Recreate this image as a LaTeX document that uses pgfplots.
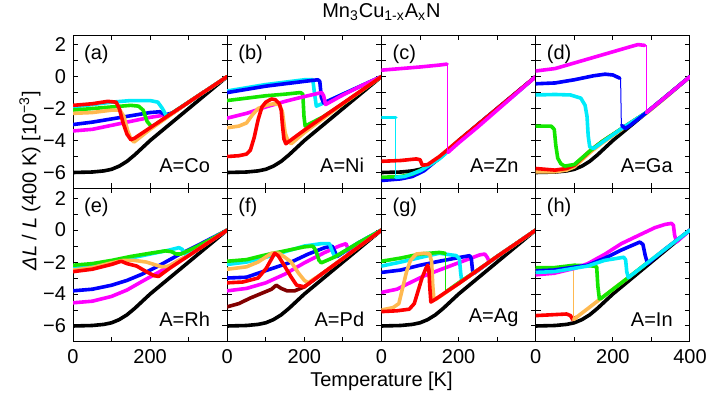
\documentclass[border=0pt]{standalone}
\usepackage{fontspec}
\setmainfont{Liberation Sans}
\usepackage{pgfplots}
\pgfplotsset{compat=1.18}
\usepackage{pgfplotstable}
\usepgfplotslibrary{groupplots}

\definecolor{cR}{RGB}{255,0,0}
\definecolor{cO}{RGB}{255,185,80}
\definecolor{cG}{RGB}{20,230,0}
\definecolor{cC}{RGB}{0,235,250}
\definecolor{cB}{RGB}{0,0,255}
\definecolor{cM}{RGB}{255,0,255}
\definecolor{cD}{RGB}{130,0,0}

% reference sample (black), same in every panel
\pgfplotstableread{
T v
0 -6.0
50 -5.97
80 -5.9
100 -5.8
120 -5.6
140 -5.3
160 -4.9
180 -4.45
200 -4.0
250 -3.0
300 -2.0
350 -1.0
400 0
}\refblack

\pgfplotsset{
  cv/.style={line width=1.8pt, line join=round, line cap=round},
  jp/.style={line width=0.5pt},
}
\tikzset{
  lab/.style={anchor=north west, inner sep=0pt},
  nm/.style={anchor=south east, inner sep=0pt},
}

\begin{document}
\begin{tikzpicture}[font=\fontsize{10}{12}\selectfont]
\begin{groupplot}[
  group style={group size=4 by 2, horizontal sep=0pt, vertical sep=0pt,
    xticklabels at=edge bottom, yticklabels at=edge left},
  scale only axis, width=77.125pt, height=76.75pt,
  xmin=0, xmax=400, ymin=-7, ymax=2.6,
  xtick={0,100,200,300,400}, xticklabels={0,,200,,},
  ytick={-6,...,2}, yticklabels={−6,,−4,,−2,,0,,2},
  tick align=inside, major tick length=2.5pt,
  tick style={black, line width=0.5pt},
  axis line style={line width=0.5pt},
  clip=true,
]
% (a) Co
\nextgroupplot
\addplot[cv,black] table {\refblack};
\addplot[cv,cM] coordinates {(0,-3.4) (50,-3.3) (100,-3.05) (150,-2.8) (200,-2.55) (240,-2.4) (258,-2.3) (300,-1.6) (350,-0.8) (400,0)};
\addplot[cv,cB] coordinates {(0,-3.0) (50,-2.85) (100,-2.65) (150,-2.45) (200,-2.25) (225,-2.2) (240,-2.4) (260,-2.25) (300,-1.6) (350,-0.8) (400,0)};
\addplot[cv,cC] coordinates {(0,-1.9) (50,-1.75) (100,-1.6) (150,-1.5) (200,-1.5) (220,-1.6) (232,-2.0) (243,-2.5) (300,-1.6) (350,-0.8) (400,0)};
\addplot[cv,cG] coordinates {(0,-2.1) (50,-2.0) (100,-1.9) (150,-1.8) (170,-1.85) (182,-2.1) (192,-2.8) (204,-3.15) (250,-2.4) (300,-1.6) (350,-0.8) (400,0)};
\addplot[cv,cO] coordinates {(0,-2.3) (50,-2.25) (100,-2.1) (122,-2.1) (132,-2.5) (142,-3.4) (150,-3.9) (158,-4.1) (200,-3.3) (250,-2.45) (300,-1.6) (350,-0.8) (400,0)};
\addplot[cv,cR] coordinates {(0,-1.8) (50,-1.7) (90,-1.55) (112,-1.6) (120,-2.0) (130,-2.9) (140,-3.6) (150,-3.95) (160,-3.85) (200,-3.2) (250,-2.4) (300,-1.6) (350,-0.8) (400,0)};
\node[lab] at (rel axis cs:0.07,0.94) {(a)};
\node[nm] at (rel axis cs:0.89,0.1) {A=Co};
% (b) Ni
\nextgroupplot
\addplot[cv,black] table {\refblack};
\addplot[cv,cC] coordinates {(0,-0.9) (50,-0.7) (100,-0.5) (150,-0.35) (200,-0.2) (222,-0.2) (226,-1.0) (231,-1.85) (260,-1.55) (300,-1.1) (350,-0.55) (400,0)};
\addplot[cv,cB] coordinates {(0,-1.0) (50,-0.8) (100,-0.6) (150,-0.45) (200,-0.3) (235,-0.2) (240,-0.3) (244,-1.3) (250,-1.65) (300,-1.1) (350,-0.55) (400,0)};
\addplot[cv,cG] coordinates {(0,-1.5) (50,-1.35) (100,-1.2) (150,-1.1) (190,-1.0) (196,-1.1) (199,-2.5) (202,-3.1) (250,-2.5) (300,-1.7) (350,-0.85) (400,0)};
\addplot[cv,cM] coordinates {(0,-2.6) (50,-2.3) (100,-1.9) (150,-1.55) (200,-1.25) (245,-1.0) (250,-1.2) (255,-1.75) (300,-1.15) (350,-0.55) (400,0)};
\addplot[cv,cO] coordinates {(0,-3.2) (30,-3.1) (50,-2.9) (65,-2.4) (80,-2.0) (100,-1.8) (120,-1.7) (135,-1.75) (143,-2.2) (150,-3.5) (157,-4.0) (166,-4.2) (200,-3.5) (250,-2.6) (300,-1.7) (350,-0.85) (400,0)};
\addplot[cv,cR] coordinates {(0,-5.0) (30,-4.95) (50,-4.85) (60,-4.6) (70,-3.8) (80,-2.7) (90,-1.9) (100,-1.6) (115,-1.4) (125,-1.45) (135,-1.7) (140,-2.1) (143,-3.0) (147,-3.9) (152,-4.2) (200,-3.35) (250,-2.5) (300,-1.67) (350,-0.84) (400,0)};
\node[lab] at (rel axis cs:0.07,0.94) {(b)};
\node[nm] at (rel axis cs:0.89,0.1) {A=Ni};
% (c) Zn
\nextgroupplot
\addplot[cv,black] table {\refblack};
\addplot[cv,cB] coordinates {(0,-6.5) (50,-6.4) (80,-6.25) (110,-5.9) (150,-5.1) (175,-4.6) (200,-4.05) (250,-3.0) (300,-2.0) (350,-1.0) (400,0)};
\addplot[cv,cG] coordinates {(0,-6.3) (50,-6.25) (80,-6.1) (110,-5.75) (140,-5.3) (160,-4.9)};
\addplot[cv,cC] coordinates {(0,-2.55) (37,-2.55)};
\addplot[jp,cC] coordinates {(37,-2.55) (37,-6.3)};
\addplot[cv,cC] coordinates {(37,-6.3) (60,-6.25) (100,-5.9) (150,-5.15) (200,-4.1) (250,-3.05) (300,-2.05) (350,-1.05) (400,0)};
\addplot[cv,cR] coordinates {(0,-5.3) (50,-5.25) (90,-5.15) (100,-5.2) (106,-5.55) (120,-5.5) (150,-5.0) (200,-4.0) (250,-3.0) (300,-2.0) (350,-1.0) (400,0)};
\addplot[cv,cM] coordinates {(0,0.4) (50,0.5) (100,0.6) (150,0.72) (170,0.78)};
\addplot[jp,cM] coordinates {(171,0.78) (171,-4.75)};
\addplot[cv,cM] coordinates {(172,-4.75) (200,-4.15) (250,-3.15) (300,-2.1) (350,-1.05) (400,0)};
\node[lab] at (rel axis cs:0.07,0.94) {(c)};
\node[nm] at (rel axis cs:0.89,0.1) {A=Zn};
% (d) Ga
\nextgroupplot
\addplot[cv,black] table {\refblack};
\addplot[cv,cO] coordinates {(0,-5.95) (50,-5.95) (80,-5.85) (100,-5.65) (143,-4.7) (170,-4.2) (226,-3.25) (287,-2.3) (340,-1.25) (400,0)};
\addplot[cv,cR] coordinates {(0,-5.75) (50,-5.85) (80,-5.75) (100,-5.55) (143,-4.6) (170,-4.1) (226,-3.2) (287,-2.25) (340,-1.2) (400,0)};
\addplot[cv,cG] coordinates {(0,-3.1) (40,-3.1) (48,-3.3) (52,-4.3) (57,-5.1) (65,-5.45) (75,-5.6) (100,-5.5) (143,-4.6) (170,-4.1) (226,-3.2) (287,-2.25) (340,-1.2) (400,0)};
\addplot[cv,cC] coordinates {(0,-1.15) (50,-1.12) (90,-1.15) (117,-1.35) (128,-1.8) (133,-2.5) (136,-3.7) (140,-4.4) (150,-4.5) (170,-4.15) (226,-3.2) (287,-2.25) (340,-1.2) (400,0)};
\addplot[cv,cB] coordinates {(0,-0.45) (50,-0.4) (100,-0.2) (150,0.05) (180,0.15) (200,0.1) (218,-0.1)};
\addplot[jp,cB] coordinates {(220,-0.1) (222,-3.0)};
\addplot[cv,cB] coordinates {(223,-3.05) (232,-3.25) (245,-3.05) (287,-2.25) (340,-1.2) (400,0)};
\addplot[cv,cM] coordinates {(0,0.35) (50,0.5) (100,0.85) (150,1.2) (200,1.55) (250,1.9) (265,2.0) (283,1.95)};
\addplot[jp,cM] coordinates {(286,1.95) (286,-2.25)};
\addplot[cv,cM] coordinates {(287,-2.25) (340,-1.2) (400,0)};
\node[lab] at (rel axis cs:0.07,0.94) {(d)};
\node[nm] at (rel axis cs:0.89,0.1) {A=Ga};
% (e) Rh
\nextgroupplot
\addplot[cv,black] table {\refblack};
\addplot[cv,cM] coordinates {(0,-4.55) (50,-4.45) (100,-4.15) (140,-3.75) (180,-3.2) (225,-2.6) (260,-2.1) (290,-1.7) (330,-1.1) (400,0)};
\addplot[cv,cB] coordinates {(0,-3.8) (50,-3.7) (100,-3.45) (140,-3.15) (180,-2.75) (225,-2.2) (270,-1.6) (320,-1.0) (360,-0.5) (400,0)};
\addplot[cv,cC] coordinates {(0,-2.35) (50,-2.2) (100,-2.0) (150,-1.75) (200,-1.5) (250,-1.25) (275,-1.1) (283,-1.2) (292,-1.55) (320,-1.1) (360,-0.55) (400,0)};
\addplot[cv,cG] coordinates {(0,-2.2) (50,-2.1) (100,-1.9) (150,-1.65) (200,-1.45) (240,-1.3) (255,-1.35) (268,-1.5) (280,-1.5) (320,-1.05) (360,-0.55) (400,0)};
\addplot[cv,cO] coordinates {(0,-2.5) (50,-2.35) (100,-2.05) (130,-1.9) (160,-1.9) (190,-2.0) (210,-2.15) (230,-2.3) (250,-2.25) (270,-1.95) (300,-1.6) (350,-0.8) (400,0)};
\addplot[cv,cR] coordinates {(0,-2.6) (50,-2.45) (100,-2.15) (125,-1.95) (140,-2.1) (165,-2.25) (190,-2.6) (210,-2.85) (222,-2.9) (250,-2.4) (300,-1.6) (350,-0.8) (400,0)};
\node[lab] at (rel axis cs:0.07,0.94) {(e)};
\node[nm] at (rel axis cs:0.89,0.1) {A=Rh};
% (f) Pd
\nextgroupplot
\addplot[cv,black] table {\refblack};
\addplot[cv,cD] coordinates {(0,-4.8) (30,-4.6) (60,-4.25) (90,-3.95) (115,-3.7) (127,-3.45) (140,-3.65) (155,-3.8) (175,-3.8) (200,-3.55) (250,-2.66) (300,-1.78) (350,-0.89) (400,0)};
\addplot[cv,cM] coordinates {(0,-3.8) (50,-3.65) (100,-3.3) (150,-2.75) (200,-2.05) (253,-1.4) (290,-1.0) (308,-0.85) (312,-1.1) (316,-1.4) (360,-0.7) (400,0)};
\addplot[cv,cB] coordinates {(0,-3.0) (50,-2.95) (80,-2.7) (123,-2.35) (166,-2.0) (210,-1.5) (253,-1.1) (272,-1.0) (278,-1.3) (285,-1.65) (340,-0.8) (400,0)};
\addplot[cv,cC] coordinates {(0,-2.15) (50,-2.0) (100,-1.7) (150,-1.35) (200,-1.0) (244,-0.85) (265,-0.85) (272,-1.3) (279,-1.68) (340,-0.8) (400,0)};
\addplot[cv,cG] coordinates {(0,-1.95) (50,-1.85) (100,-1.55) (150,-1.3) (200,-1.05) (222,-1.0) (230,-1.3) (238,-1.9) (244,-2.05) (279,-1.68) (340,-0.8) (400,0)};
\addplot[cv,cO] coordinates {(0,-2.45) (50,-2.3) (80,-2.0) (115,-1.45) (135,-1.45) (166,-2.0) (185,-2.7) (200,-3.15) (210,-3.3) (250,-2.66) (300,-1.78) (350,-0.89) (400,0)};
\addplot[cv,cR] coordinates {(0,-3.3) (40,-3.25) (80,-3.0) (101,-2.4) (115,-1.8) (123,-1.45) (132,-1.6) (145,-2.1) (166,-2.95) (180,-3.45) (200,-3.55) (250,-2.66) (300,-1.78) (350,-0.89) (400,0)};
\node[lab] at (rel axis cs:0.07,0.94) {(f)};
\node[nm] at (rel axis cs:0.89,0.1) {A=Pd};
% (g) Ag
\nextgroupplot
\addplot[cv,black] table {\refblack};
\addplot[cv,cM] coordinates {(0,-3.9) (40,-3.7) (107,-2.9) (150,-2.5) (194,-2.1) (255,-1.55) (268,-1.5) (274,-1.7) (280,-2.0) (300,-1.65) (350,-0.83) (400,0)};
\addplot[cv,cB] coordinates {(0,-2.65) (50,-2.5) (100,-2.2) (150,-1.95) (194,-1.75) (229,-1.6) (233,-1.8) (236,-2.5) (240,-2.7) (300,-1.65) (350,-0.83) (400,0)};
\addplot[cv,cC] coordinates {(0,-2.25) (50,-2.0) (107,-1.68) (150,-1.45) (194,-1.6) (202,-1.8) (205,-2.6) (208,-3.2) (250,-2.5) (300,-1.65) (350,-0.83) (400,0)};
\addplot[cv,cG] coordinates {(0,-1.95) (50,-1.75) (100,-1.5) (150,-1.4) (165,-1.45)};
\addplot[jp,cG] coordinates {(167,-1.45) (167,-3.85)};
\addplot[cv,cG] coordinates {(168,-3.85) (200,-3.3) (250,-2.5) (300,-1.65) (350,-0.83) (400,0)};
\addplot[cv,cO] coordinates {(0,-5.0) (30,-4.85) (45,-4.6) (55,-3.6) (65,-2.6) (75,-1.9) (90,-1.5) (110,-1.45) (125,-1.5) (130,-2.0) (133,-3.5) (136,-4.3) (140,-4.35) (200,-3.35) (250,-2.5) (300,-1.65) (350,-0.83) (400,0)};
\addplot[cv,cR] coordinates {(0,-5.1) (40,-5.05) (72,-4.95) (85,-4.6) (95,-3.8) (105,-3.0) (115,-2.4) (120,-2.2) (123,-2.5) (125,-3.5) (128,-4.5) (135,-4.4) (200,-3.35) (250,-2.5) (300,-1.65) (350,-0.83) (400,0)};
\node[lab] at (rel axis cs:0.07,0.94) {(g)};
\node[nm] at (rel axis cs:0.89,0.1) {A=Ag};
% (h) In
\nextgroupplot[xticklabels={0,,200,,400}]
\addplot[cv,black] table {\refblack};
\addplot[cv,cR] coordinates {(0,-5.35) (40,-5.3) (80,-5.25) (90,-5.35) (96,-5.6) (105,-5.45)};
\addplot[cv,cO] coordinates {(0,-2.5) (50,-2.45) (96,-2.4)};
\addplot[jp,cO] coordinates {(98,-2.4) (98,-5.6)};
\addplot[cv,cO] coordinates {(98,-5.6) (169,-4.28) (239,-2.99) (291,-2.02) (361,-0.72) (400,0)};
\addplot[cv,cG] coordinates {(0,-2.35) (48,-2.35) (100,-2.2) (150,-2.25) (158,-2.3) (161,-3.5) (165,-4.3) (169,-4.28) (239,-2.99) (291,-2.02)};
\addplot[cv,cM] coordinates {(0,-2.8) (48,-2.7) (100,-2.4) (135,-2.1) (180,-1.5) (222,-0.85) (274,-0.25) (309,0.15) (335,0.35) (352,0.42) (357,0.3) (360,-0.3) (365,-0.75) (400,0)};
\addplot[cv,cB] coordinates {(0,-2.55) (48,-2.5) (135,-2.2) (180,-1.75) (222,-1.25) (270,-0.75) (278,-0.9) (284,-1.6) (290,-2.1) (330,-1.3) (361,-0.72) (400,0)};
\addplot[cv,cC] coordinates {(0,-2.65) (48,-2.6) (135,-2.25) (178,-1.9) (228,-1.7) (233,-1.85) (236,-2.6) (240,-2.98) (291,-2.02) (361,-0.72) (400,0)};
\node[lab] at (rel axis cs:0.07,0.94) {(h)};
\node[nm] at (rel axis cs:0.89,0.1) {A=In};
\end{groupplot}
\node at ([yshift=11.5pt]group c2r1.north east) {Mn\textsubscript{3}Cu\textsubscript{1-x}A\textsubscript{x}N};
\node at ([yshift=-19.5pt]group c2r2.south east) {Temperature [K]};
\node[rotate=90] at ([xshift=-21.5pt,yshift=4pt]group c1r1.south west) {{\itshape ΔL} / {\itshape L} (400 K) [10\textsuperscript{−3}]};
\pgfresetboundingbox
\path[use as bounding box] (group c1r1.north west) ++(-36.5pt,17.5pt) rectangle ++(353.5pt,-204pt);
\end{tikzpicture}
\end{document}
